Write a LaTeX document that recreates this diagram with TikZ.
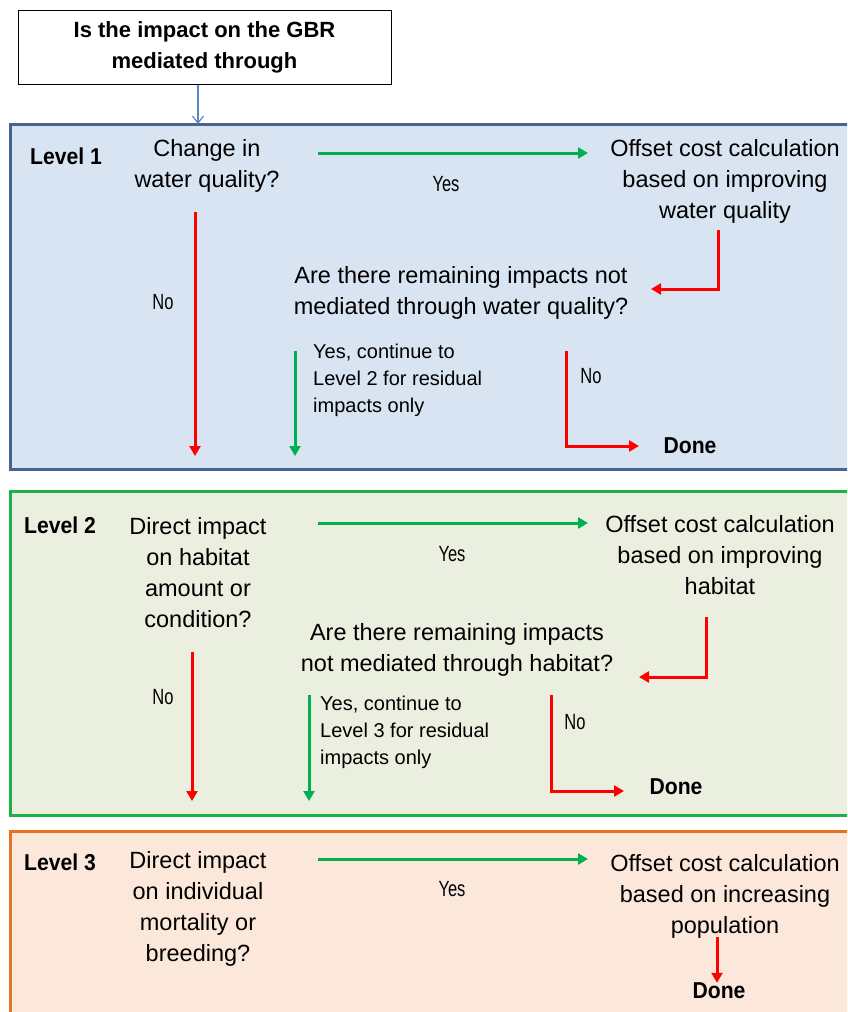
\documentclass[tikz,border=0pt]{standalone}
\usepackage{fontspec}
\setmainfont{Liberation Sans}
\newfontfamily\condfont[FakeStretch=0.75]{Liberation Sans}
\newfontfamily\condbold[FakeStretch=0.92]{Liberation Sans Bold}
\usetikzlibrary{arrows.meta}
\definecolor{lonebd}{HTML}{46648F}
\definecolor{lonefill}{HTML}{D9E4F3}
\definecolor{ltwobd}{HTML}{1FAF4B}
\definecolor{ltwofill}{HTML}{EBEFDF}
\definecolor{lthreebd}{HTML}{E8731F}
\definecolor{lthreefill}{HTML}{FCE8DA}
\definecolor{arrred}{HTML}{FF0000}
\definecolor{arrgreen}{HTML}{00B050}
\definecolor{arrblue}{HTML}{5B87C5}
\tikzset{
  txt/.style={font=\fontsize{23.5}{31}\selectfont, align=center, inner sep=0pt},
  smalltxt/.style={font=\fontsize{20}{27}\selectfont, align=left, inner sep=0pt, anchor=north west},
  lbl/.style={font=\condfont\fontsize{22}{24}\selectfont, inner sep=0pt},
  boldtxt/.style={font=\condbold\fontsize{23}{26}\selectfont, align=center, inner sep=0pt},
  redarr/.style={draw=arrred, line width=3pt, -{Triangle[length=10pt,width=11pt]}},
  greenarr/.style={draw=arrgreen, line width=3pt, -{Triangle[length=10pt,width=11pt]}},
  levelbox/.style={line width=3pt}
}
\begin{document}
\begin{tikzpicture}[x=1pt,y=-1pt]
\useasboundingbox (0,0) rectangle (847,1012);
\clip (0,0) rectangle (847,1012);
% level boxes
\draw[levelbox, draw=lonebd, fill=lonefill] (10,124) rectangle (870,469);
\draw[levelbox, draw=ltwobd, fill=ltwofill] (10,491) rectangle (870,815);
\draw[levelbox, draw=lthreebd, fill=lthreefill] (10,831) rectangle (870,1040);
% title
\node[draw=black, line width=1pt, minimum width=373pt, minimum height=74pt, inner sep=0pt, align=center, font=\fontsize{22}{31}\selectfont\bfseries] (title) at (204.5,47) {Is the impact on the GBR\\mediated through};
\coordinate (l1top) at (198,124);
\draw[draw=arrblue, line width=1.2pt, -{Straight Barb[length=7pt,width=11pt]}] (title.south -| l1top) -- (l1top);

% ---------- Level 1
\node[boldtxt] (lv1) at (66,156) {Level 1};
\node[txt] (q1) at (207,166) {Change in\\water quality?};
\node[txt] (o1) at (725,181) {Offset cost calculation\\based on improving\\water quality};
\node[txt] (r1) at (461,293) {Are there remaining impacts not\\mediated through water quality?};
\node[lbl] (yes1) at (446,184) {Yes};
\node[lbl] (no1) at (163,302) {No};
\node[smalltxt] (cont1) at (313,344) {Yes, continue to\\Level 2 for residual\\impacts only};
\node[lbl] (no1b) at (591,376) {No};
\node[boldtxt] (done1) at (690,446) {Done};
\coordinate (g1s) at (318,153);
\coordinate (g1e) at (588,153);
\draw[greenarr] (g1s) -- (g1e);
\coordinate (r1s) at (718,230);
\coordinate (r1e) at (651,289);
\draw[redarr] (r1s) |- (r1e);
\coordinate (n1s) at (195,212);
\coordinate (n1e) at (195,456);
\draw[redarr] (n1s) -- (n1e);
\coordinate (c1s) at (295,351);
\coordinate (c1e) at (295,456);
\draw[greenarr] (c1s) -- (c1e);
\coordinate (d1s) at (566,351);
\coordinate (d1e) at (639,446);
\draw[redarr] (d1s) |- (d1e);

% ---------- Level 2
\node[boldtxt] (lv2) at (60,525) {Level 2};
\node[txt] (q2) at (198,573) {Direct impact\\on habitat\\amount or\\condition?};
\node[txt] (o2) at (720,555) {Offset cost calculation\\based on improving\\habitat};
\node[txt] (r2) at (457,650) {Are there remaining impacts\\not mediated through habitat?};
\node[lbl] (yes2) at (452,554) {Yes};
\node[lbl] (no2) at (163,697) {No};
\node[smalltxt] (cont2) at (320,696) {Yes, continue to\\Level 3 for residual\\impacts only};
\node[lbl] (no2b) at (575,722) {No};
\node[boldtxt] (done2) at (676,787) {Done};
\coordinate (g2s) at (318,523);
\coordinate (g2e) at (588,523);
\draw[greenarr] (g2s) -- (g2e);
\coordinate (r2s) at (706,617);
\coordinate (r2e) at (639,677);
\draw[redarr] (r2s) |- (r2e);
\coordinate (n2s) at (192,652);
\coordinate (n2e) at (192,801);
\draw[redarr] (n2s) -- (n2e);
\coordinate (c2s) at (309,695);
\coordinate (c2e) at (309,801);
\draw[greenarr] (c2s) -- (c2e);
\coordinate (d2s) at (551,695);
\coordinate (d2e) at (624,791);
\draw[redarr] (d2s) |- (d2e);

% ---------- Level 3
\node[boldtxt] (lv3) at (60,862) {Level 3};
\node[txt] (q3) at (198,909) {Direct impact\\on individual\\mortality or\\breeding?};
\node[txt] (o3) at (725,896) {Offset cost calculation\\based on increasing\\population};
\node[lbl] (yes3) at (452,889) {Yes};
\node[boldtxt] (done3) at (719,991) {Done};
\coordinate (g3s) at (318,859);
\coordinate (g3e) at (588,859);
\draw[greenarr] (g3s) -- (g3e);
\coordinate (d3s) at (717,937);
\draw[redarr] (d3s) -- (d3s |- done3.north);
\end{tikzpicture}
\end{document}
